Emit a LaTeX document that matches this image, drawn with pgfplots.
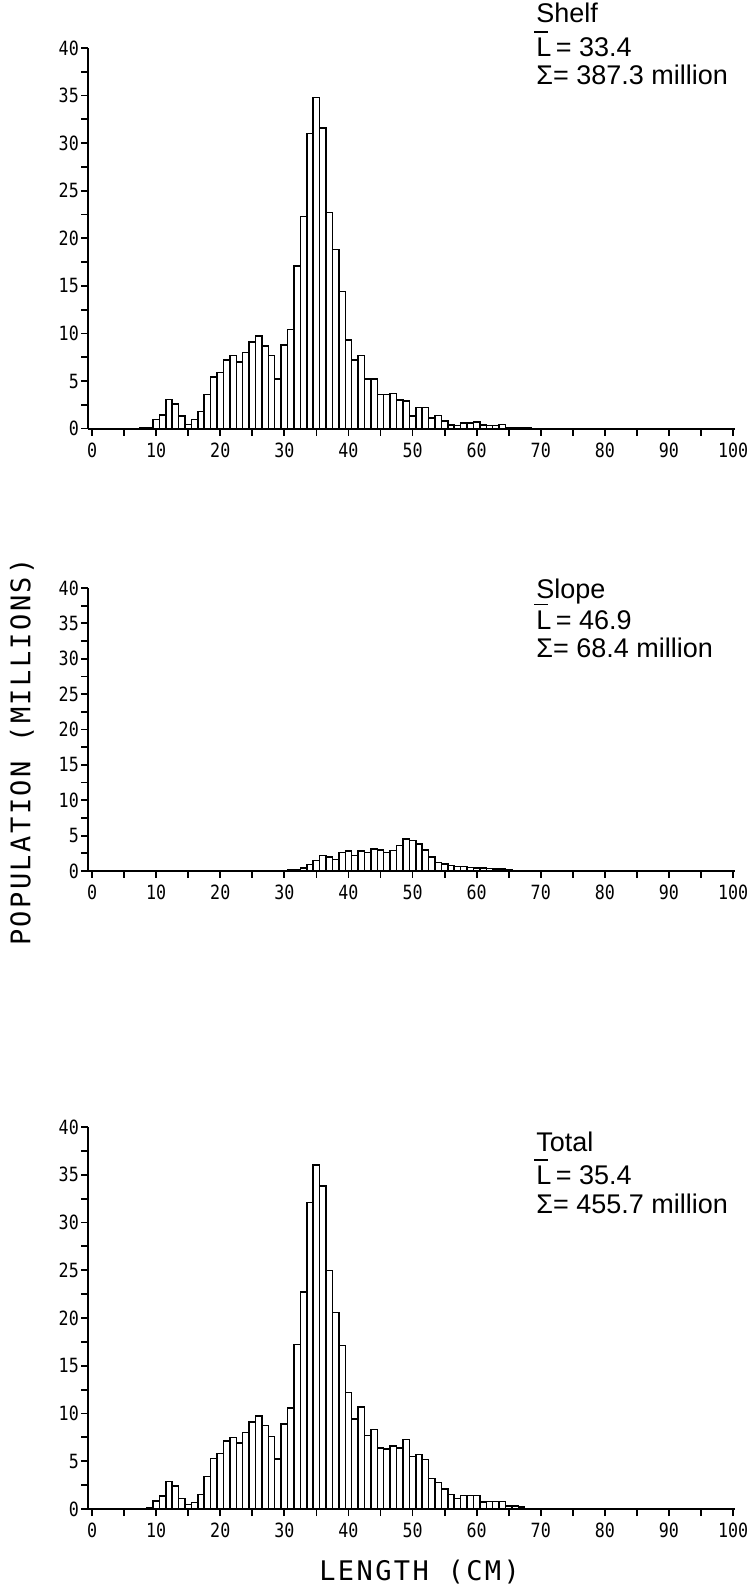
\documentclass[border=0pt]{standalone}
\usepackage{fontspec}
\setmainfont{Liberation Sans}
\setmonofont{DejaVu Sans Mono}
\newfontfamily\tickfont[FakeStretch=0.85]{DejaVu Sans Mono}
\usepackage{pgfplots}
\pgfplotsset{compat=1.18}
\usepackage{pgfplotstable}

\pgfplotstableread{
x y
8 0.05
9 0.1
10 0.95
11 1.45
12 3.05
13 2.6
14 1.3
15 0.45
16 0.95
17 1.8
18 3.6
19 5.4
20 5.9
21 7.2
22 7.7
23 7.0
24 8.0
25 9.1
26 9.75
27 8.7
28 7.7
29 5.2
30 8.8
31 10.4
32 17.1
33 22.3
34 31.0
35 34.8
36 31.6
37 22.7
38 18.8
39 14.4
40 9.3
41 7.2
42 7.7
43 5.2
44 5.2
45 3.6
46 3.6
47 3.7
48 3.0
49 2.9
50 1.3
51 2.2
52 2.2
53 1.1
54 1.4
55 0.8
56 0.4
57 0.35
58 0.6
59 0.6
60 0.7
61 0.4
62 0.35
63 0.35
64 0.45
65 0.1
66 0.1
67 0.05
68 0.05
69 0.03
70 0.03
}\shelf

\pgfplotstableread{
x y
28 0.03
29 0.05
30 0.1
31 0.15
32 0.2
33 0.4
34 0.9
35 1.5
36 2.2
37 2.0
38 1.6
39 2.6
40 2.8
41 2.2
42 2.8
43 2.6
44 3.1
45 3.0
46 2.6
47 2.9
48 3.6
49 4.5
50 4.3
51 3.8
52 3.0
53 2.0
54 1.2
55 1.0
56 0.8
57 0.6
58 0.6
59 0.5
60 0.45
61 0.4
62 0.35
63 0.3
64 0.25
65 0.15
66 0.1
67 0.1
68 0.05
69 0.05
70 0.05
}\slope

\pgfplotstableread{
x y
8 0.05
9 0.1
10 0.85
11 1.35
12 2.9
13 2.4
14 1.1
15 0.45
16 0.7
17 1.5
18 3.4
19 5.3
20 5.8
21 7.1
22 7.5
23 6.9
24 8.0
25 9.1
26 9.75
27 8.75
28 7.6
29 5.25
30 8.9
31 10.6
32 17.2
33 22.7
34 32.1
35 36.0
36 33.8
37 25.0
38 20.6
39 17.1
40 12.2
41 9.4
42 10.7
43 7.7
44 8.3
45 6.4
46 6.3
47 6.6
48 6.4
49 7.3
50 5.5
51 5.7
52 5.2
53 3.2
54 2.75
55 2.1
56 1.5
57 1.1
58 1.4
59 1.4
60 1.4
61 0.75
62 0.8
63 0.8
64 0.8
65 0.3
66 0.3
67 0.2
68 0.05
69 0.05
70 0.03
}\total

\newcommand\Lbar{\makebox[0pt][l]{\hspace{-0.08em}\raisebox{0.9em}{\rule{0.5em}{0.8pt}}}L}

\pgfplotsset{hist/.style={
  scale only axis, width=323.4pt,
  xmin=-0.6, xmax=100.3, ymin=0, ymax=40,
  axis lines=left, axis line style={line width=1pt,-},
  xtick={0,10,...,100}, minor xtick={5,15,...,95},
  ytick={0,5,...,40}, minor ytick={2.5,7.5,...,37.5},
  tick align=outside, major tick length=3.5pt, minor tick length=3.5pt,
  every tick/.style={line width=0.9pt, black},
  every minor tick/.style={line width=0.9pt, black},
  ticklabel style={font=\tickfont\fontsize{9.8}{12}\selectfont},
  xticklabel style={inner xsep=0pt},
  yticklabel style={inner xsep=1pt},
  /pgf/number format/assume math mode=true,
  ybar, bar width=1, /pgf/bar shift=0pt,
  clip=false,
}}

\begin{document}
\begin{tikzpicture}
\path (0,0) rectangle (374pt,796pt);

\begin{axis}[hist, height=190.3pt, at={(44.1pt,581.7pt)}, anchor=south west]
\addplot[fill=white, draw=black, line width=0.75pt] table {\shelf};
\end{axis}

\begin{axis}[hist, height=141.5pt, at={(44.1pt,360.5pt)}, anchor=south west]
\addplot[fill=white, draw=black, line width=0.75pt] table {\slope};
\end{axis}

\begin{axis}[hist, height=191pt, at={(44.1pt,41.5pt)}, anchor=south west]
\addplot[fill=white, draw=black, line width=0.75pt] table {\total};
\end{axis}

\begin{scope}[every node/.style={anchor=base west, inner sep=0pt, font=\fontsize{13.5}{16}\selectfont}]
\node at (268pt,784.5pt) {Shelf};
\node at (268pt,767.5pt) {\Lbar\,= 33.4};
\node at (268pt,753.5pt) {Σ= 387.3 million};
\node at (268pt,496.5pt) {Slope};
\node at (268pt,481.2pt) {\Lbar\,= 46.9};
\node at (268pt,467pt) {Σ= 68.4 million};
\node at (268pt,220.2pt) {Total};
\node at (268pt,203.5pt) {\Lbar\,= 35.4};
\node at (268pt,189.2pt) {Σ= 455.7 million};
\end{scope}

\node[rotate=90, inner sep=0pt, font=\ttfamily\fontsize{13.5}{16}\selectfont\addfontfeatures{LetterSpace=9}] at (11pt,420pt) {POPULATION (MILLIONS)};
\node[inner sep=0pt, font=\ttfamily\fontsize{13.5}{16}\selectfont\addfontfeatures{LetterSpace=9}] at (209.8pt,10pt) {LENGTH (CM)};
\end{tikzpicture}
\end{document}
